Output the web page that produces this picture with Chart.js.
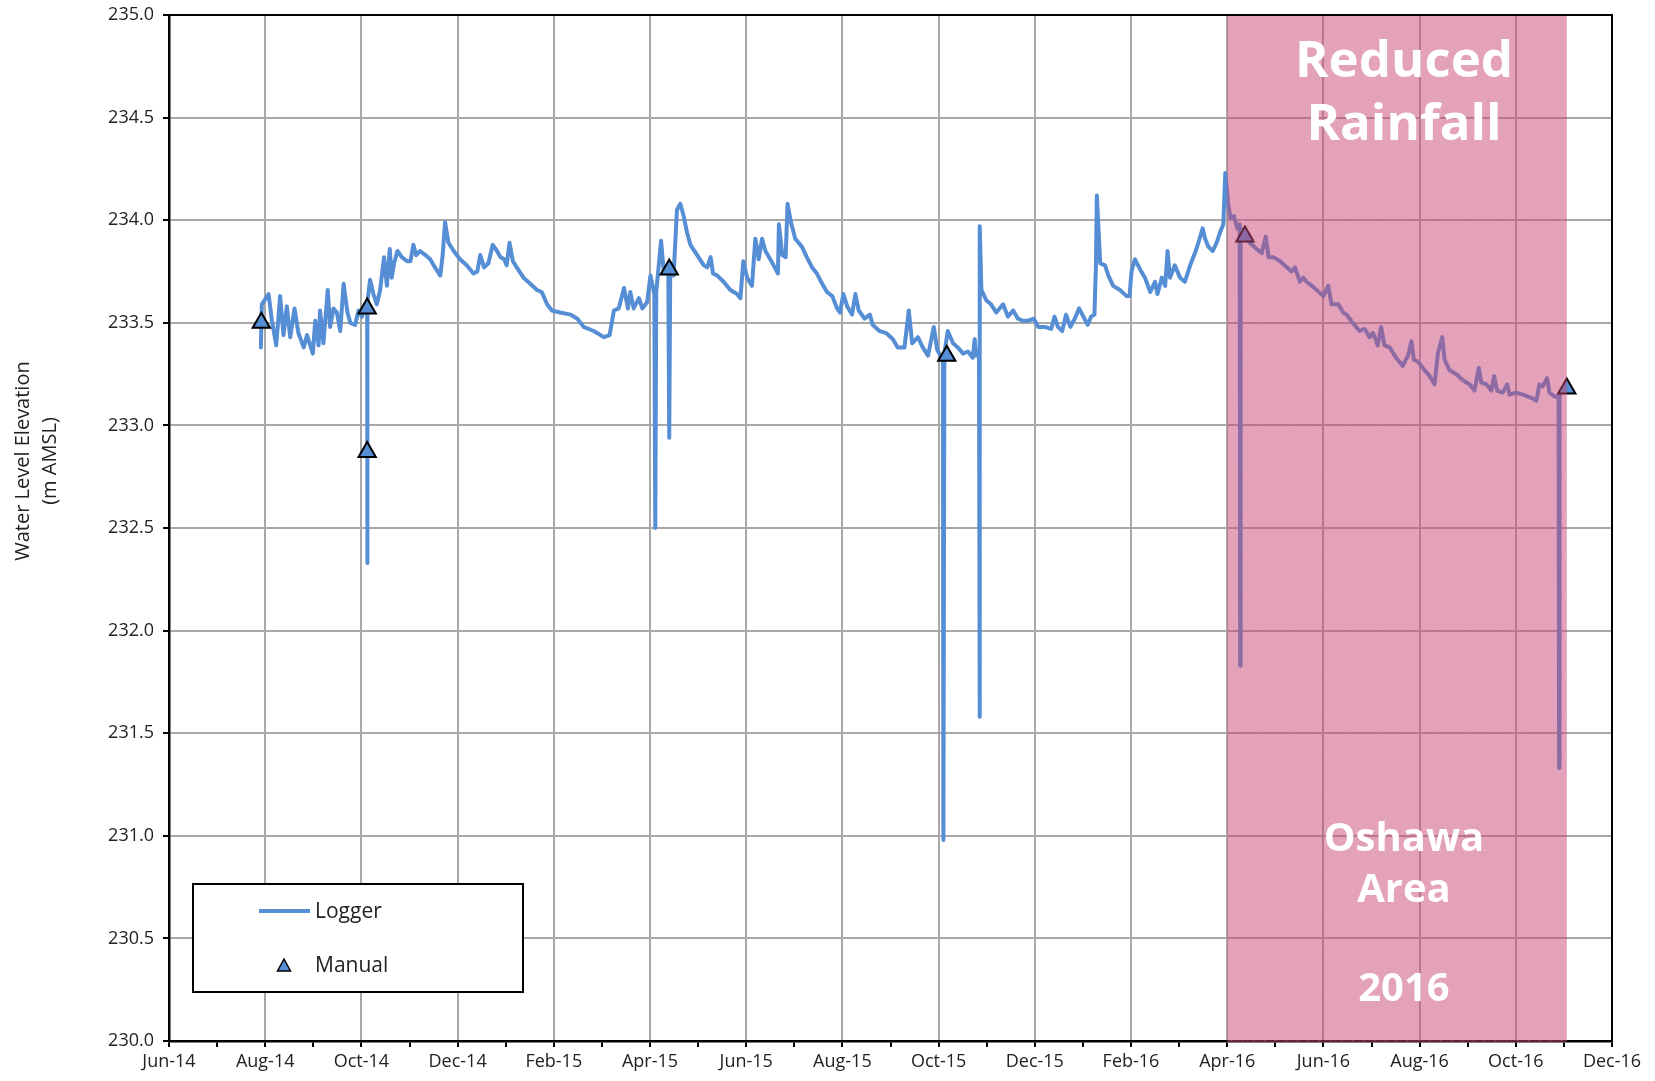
<!DOCTYPE html>
<html>
<head>
<meta charset="utf-8">
<title>Water Level Elevation</title>
<script src="https://cdn.jsdelivr.net/npm/chart.js@4.4.0/dist/chart.umd.min.js"></script>
<style>
  html, body { margin: 0; padding: 0; background: #fff; }
  canvas { display: block; }
</style>
</head>
<body>
<canvas id="chart" width="1655" height="1081"></canvas>
<script>
// x = months after Jun-14 (the axis is spaced one month per step)
const monthLabels = ["Jun-14", "Aug-14", "Oct-14", "Dec-14", "Feb-15", "Apr-15", "Jun-15", "Aug-15",
  "Oct-15", "Dec-15", "Feb-16", "Apr-16", "Jun-16", "Aug-16", "Oct-16", "Dec-16"];

const loggerMonth = [
  1.91, 1.93, 2.07, 2.14, 2.23, 2.31, 2.38, 2.45, 2.52, 2.61, 2.69, 2.80, 2.87, 2.99, 3.04, 3.11, 3.14, 3.21,
  3.30, 3.35, 3.42, 3.49, 3.56, 3.63, 3.71, 3.77, 3.87, 3.94, 4.01, 4.06, 4.12, 4.12, 4.13, 4.18, 4.25, 4.32,
  4.39, 4.47, 4.53, 4.59, 4.63, 4.68, 4.75, 4.84, 4.95, 5.02, 5.08, 5.14, 5.22, 5.33, 5.43, 5.53, 5.64, 5.69,
  5.74, 5.81, 5.92, 6.05, 6.19, 6.33, 6.41, 6.47, 6.55, 6.64, 6.73, 6.82, 6.89, 6.97, 7.02, 7.08, 7.15, 7.23,
  7.37, 7.51, 7.65, 7.75, 7.86, 7.96, 8.13,
  8.35, 8.49, 8.62, 8.83, 9.04, 9.16, 9.25, 9.35, 9.46, 9.54, 9.59, 9.66, 9.77, 9.84, 9.94, 10.01, 10.09, 10.11,
  10.13, 10.23, 10.29, 10.38, 10.40, 10.42, 10.49, 10.56, 10.63, 10.70, 10.77, 10.84, 10.98, 11.12, 11.19, 11.26,
  11.31, 11.40, 11.53, 11.67, 11.81, 11.88, 11.94, 12.02, 12.12, 12.19, 12.26, 12.33, 12.40, 12.50, 12.57, 12.66,
  12.68, 12.75, 12.82, 12.86, 12.93, 13.02, 13.16, 13.26, 13.37, 13.47, 13.58, 13.68, 13.79, 13.89, 13.95, 14.02,
  14.10, 14.20, 14.27, 14.34,
  14.46, 14.57, 14.63, 14.77, 14.91, 15.05, 15.15, 15.29, 15.38, 15.45, 15.57, 15.67, 15.78, 15.90, 15.97, 16.06,
  16.09, 16.10, 16.12, 16.19, 16.30, 16.40, 16.51, 16.61, 16.71, 16.75, 16.78, 16.84, 16.85, 16.86, 16.89, 16.99,
  17.09, 17.20, 17.34, 17.44, 17.55, 17.65, 17.75, 17.86, 17.98, 18.07, 18.20, 18.34, 18.41, 18.48, 18.57, 18.65,
  18.74, 18.83, 18.92, 19.01, 19.10, 19.17, 19.24, 19.27, 19.29,
  19.36, 19.46, 19.53, 19.63, 19.77, 19.91, 19.97, 20.01, 20.08, 20.19, 20.29, 20.40, 20.50, 20.55, 20.64, 20.71,
  20.76, 20.81, 20.91, 21.02, 21.12, 21.23, 21.33, 21.40, 21.49, 21.54, 21.61, 21.70, 21.78, 21.85, 21.92, 21.96,
  22.02, 22.07, 22.14, 22.21, 22.26, 22.27, 22.28, 22.47, 22.61, 22.72, 22.80, 22.86, 22.96, 23.10, 23.24, 23.34,
  23.41, 23.51, 23.58, 23.65, 23.76, 23.86, 24.00, 24.10, 24.17, 24.31, 24.41,
  24.48, 24.61, 24.75, 24.86, 24.96, 25.03, 25.13, 25.20, 25.27, 25.38, 25.51, 25.65, 25.76, 25.83, 25.88, 25.97,
  26.10, 26.21, 26.31, 26.38, 26.47, 26.52, 26.62, 26.76, 26.90, 27.04, 27.14, 27.23, 27.28, 27.39, 27.49, 27.55,
  27.61, 27.73, 27.82, 27.87, 28.01, 28.15, 28.25, 28.36, 28.43, 28.49, 28.56, 28.65, 28.70, 28.81, 28.89, 28.90,
  28.91, 28.95, 29.05
];
const loggerLevel = [
  233.38, 233.59, 233.64, 233.51, 233.39, 233.63, 233.44, 233.58, 233.43, 233.57, 233.45, 233.38, 233.44, 233.35, 233.51, 233.39, 233.56, 233.40,
  233.66, 233.48, 233.57, 233.55, 233.46, 233.69, 233.55, 233.50, 233.49, 233.56, 233.53, 233.57, 233.57, 232.33, 233.60, 233.71, 233.64, 233.59,
  233.66, 233.82, 233.68, 233.86, 233.72, 233.79, 233.85, 233.82, 233.80, 233.80, 233.88, 233.83, 233.85, 233.83, 233.81, 233.77, 233.73, 233.83,
  233.99, 233.89, 233.85, 233.81, 233.78, 233.74, 233.75, 233.83, 233.77, 233.79, 233.88, 233.85, 233.82, 233.81, 233.78, 233.89, 233.80, 233.77,
  233.72, 233.69, 233.66, 233.65, 233.59, 233.56, 233.55,
  233.54, 233.52, 233.48, 233.46, 233.43, 233.44, 233.56, 233.57, 233.67, 233.57, 233.65, 233.57, 233.62, 233.57, 233.60, 233.73, 233.64, 232.50,
  233.65, 233.90, 233.74, 233.77, 232.94, 233.73, 233.73, 234.05, 234.08, 234.02, 233.94, 233.88, 233.83, 233.78, 233.77, 233.82,
  233.74, 233.73, 233.70, 233.66, 233.64, 233.62, 233.80, 233.72, 233.68, 233.91, 233.81, 233.91, 233.85, 233.81, 233.78, 233.74,
  233.98, 233.83, 233.82, 234.08, 233.99, 233.91, 233.87, 233.82, 233.77, 233.74, 233.69, 233.65, 233.63, 233.57, 233.55, 233.64,
  233.58, 233.54, 233.64, 233.56,
  233.52, 233.54, 233.49, 233.46, 233.45, 233.42, 233.38, 233.38, 233.56, 233.40, 233.43, 233.38, 233.34, 233.48, 233.37, 233.33,
  233.33, 230.98, 233.35, 233.46, 233.40, 233.38, 233.35, 233.36, 233.33, 233.42, 233.34, 233.35, 231.58, 233.97, 233.66, 233.61,
  233.59, 233.55, 233.59, 233.53, 233.56, 233.52, 233.51, 233.51, 233.52, 233.48, 233.48, 233.47, 233.53, 233.48, 233.46, 233.54,
  233.48, 233.52, 233.57, 233.53, 233.49, 233.53, 233.54, 233.77, 234.12,
  233.79, 233.78, 233.73, 233.68, 233.66, 233.63, 233.63, 233.75, 233.81, 233.76, 233.72, 233.65, 233.70, 233.64, 233.72, 233.68,
  233.85, 233.72, 233.78, 233.72, 233.70, 233.78, 233.84, 233.89, 233.96, 233.91, 233.87, 233.85, 233.89, 233.94, 233.98, 234.23,
  234.08, 234.01, 234.02, 233.96, 233.98, 231.83, 233.96, 233.89, 233.86, 233.84, 233.92, 233.82, 233.82, 233.80, 233.77, 233.75,
  233.77, 233.70, 233.72, 233.70, 233.68, 233.66, 233.63, 233.68, 233.59, 233.59, 233.55,
  233.54, 233.50, 233.46, 233.47, 233.43, 233.45, 233.39, 233.48, 233.39, 233.38, 233.33, 233.29, 233.34, 233.41, 233.32, 233.31,
  233.27, 233.24, 233.20, 233.35, 233.43, 233.32, 233.27, 233.25, 233.22, 233.20, 233.17, 233.28, 233.21, 233.20, 233.17, 233.24,
  233.17, 233.16, 233.20, 233.15, 233.16, 233.15, 233.14, 233.13, 233.12, 233.20, 233.19, 233.23, 233.16, 233.14, 233.14, 231.33,
  233.15, 233.16, 233.17
];

const manualMonth = [1.92, 4.12, 4.12, 10.40, 16.17, 22.37, 29.06];
const manualLevel = [233.50, 233.57, 232.87, 233.76, 233.34, 233.92, 233.18];

// shaded period: Apr-16 to early Nov-16
const shadeFrom = 22;
const shadeTo = 29.06;
const shadeTop = ["Reduced", "Rainfall"];
const shadeBottom = ["Oshawa", "Area", "2016"];

const blue = "#558ED5";
const gridGrey = "#A8A8A8";
const textCol = "#222";
const font = "'Open Sans', 'DejaVu Sans', sans-serif";

const loggerPts = loggerMonth.map((m, i) => ({ x: m, y: loggerLevel[i] }));
const manualPts = manualMonth.map((m, i) => ({ x: m, y: manualLevel[i] }));

const decor = {
  id: "decor",
  afterDatasetsDraw(chart) {
    const { ctx, chartArea: a, scales: { x } } = chart;
    const x0 = x.getPixelForValue(shadeFrom);
    const x1 = x.getPixelForValue(shadeTo);
    ctx.save();
    ctx.fillStyle = "rgba(200,70,115,0.5)";
    ctx.fillRect(x0, a.top, x1 - x0, a.bottom - a.top + 1);
    // faint dotted texture
    ctx.fillStyle = "rgba(255,255,255,0.3)";
    for (let yy = a.top + 5; yy < a.bottom; yy += 10) {
      for (let xx = x0 + 4; xx < x1; xx += 11) ctx.fillRect(xx, yy, 1, 1);
    }
    const cx = (x0 + x1) / 2 + 7;
    ctx.fillStyle = "#fff";
    ctx.textAlign = "center";
    ctx.textBaseline = "alphabetic";
    ctx.font = "bold 51px " + font;
    ctx.fillText(shadeTop[0], cx, a.top + 62);
    ctx.fillText(shadeTop[1], cx, a.top + 125);
    ctx.font = "bold 40px " + font;
    ctx.fillText(shadeBottom[0], cx, a.bottom - 190);
    ctx.fillText(shadeBottom[1], cx, a.bottom - 139);
    ctx.fillText(shadeBottom[2], cx, a.bottom - 40);
    ctx.restore();
  },
  afterDraw(chart) {
    const { ctx, chartArea: a } = chart;
    ctx.save();
    // top and right frame
    ctx.strokeStyle = "#000";
    ctx.lineWidth = 2;
    ctx.beginPath();
    ctx.moveTo(a.left, a.top);
    ctx.lineTo(a.right, a.top);
    ctx.lineTo(a.right, a.bottom);
    ctx.stroke();

    // legend box
    const lx = a.left + 24, ly = a.bottom - 157;
    ctx.fillStyle = "#fff";
    ctx.fillRect(lx, ly, 330, 108);
    ctx.lineWidth = 2;
    ctx.strokeRect(lx, ly, 330, 108);
    ctx.strokeStyle = blue;
    ctx.lineWidth = 4;
    ctx.beginPath();
    ctx.moveTo(lx + 66, ly + 27);
    ctx.lineTo(lx + 117, ly + 27);
    ctx.stroke();
    ctx.beginPath();
    ctx.moveTo(lx + 91, ly + 75);
    ctx.lineTo(lx + 97.5, ly + 87);
    ctx.lineTo(lx + 84.5, ly + 87);
    ctx.closePath();
    ctx.fillStyle = blue;
    ctx.fill();
    ctx.strokeStyle = "#000";
    ctx.lineWidth = 1.5;
    ctx.stroke();
    ctx.fillStyle = textCol;
    ctx.font = "21px " + font;
    ctx.textAlign = "left";
    ctx.textBaseline = "alphabetic";
    ctx.fillText("Logger", lx + 122, ly + 34);
    ctx.fillText("Manual", lx + 122, ly + 88);

    // y axis title, two lines, rotated
    ctx.font = "20px " + font;
    ctx.textAlign = "center";
    ctx.textBaseline = "middle";
    ctx.translate(0, 461);
    ctx.rotate(-Math.PI / 2);
    ctx.fillText("Water Level Elevation", 0, 23);
    ctx.fillText("(m AMSL)", 0, 50);
    ctx.restore();
  }
};

new Chart(document.getElementById("chart"), {
  type: "scatter",
  data: {
    datasets: [
      {
        label: "Manual",
        data: manualPts,
        pointStyle: "triangle",
        pointRadius: 10,
        backgroundColor: blue,
        borderColor: "#000",
        borderWidth: 2,
        showLine: false
      },
      {
        label: "Logger",
        data: loggerPts,
        showLine: true,
        borderColor: blue,
        borderWidth: 4,
        borderJoinStyle: "round",
        borderCapStyle: "round",
        pointRadius: 0,
        tension: 0
      }
    ]
  },
  options: {
    responsive: false,
    animation: false,
    devicePixelRatio: 1,
    layout: { padding: { top: 15, right: 43, left: 0, bottom: 0 } },
    plugins: { legend: { display: false }, tooltip: { enabled: false } },
    scales: {
      x: {
        type: "linear",
        min: 0,
        max: 30,
        afterFit: s => { s.height = 40; },
        ticks: {
          stepSize: 1,
          autoSkip: false,
          maxRotation: 0,
          padding: 4,
          color: textCol,
          font: { family: font, size: 18 },
          callback: v => (v % 2 === 0 ? monthLabels[v / 2] : "")
        },
        grid: {
          color: c => (c.tick && c.tick.value % 2 === 0 ? gridGrey : "rgba(0,0,0,0)"),
          lineWidth: 2,
          tickColor: "#000",
          tickLength: 6,
          tickWidth: 2
        },
        border: { display: true, color: "#000", width: 2.5 }
      },
      y: {
        min: 230,
        max: 235,
        afterFit: s => { s.width = 169; s.paddingTop = 0; s.paddingBottom = 0; },
        ticks: {
          stepSize: 0.5,
          padding: 9,
          color: textCol,
          font: { family: font, size: 18 },
          callback: v => v.toFixed(1)
        },
        grid: {
          color: gridGrey,
          lineWidth: 2,
          tickColor: "#000",
          tickLength: 6,
          tickWidth: 2
        },
        border: { display: true, color: "#000", width: 2.5 }
      }
    }
  },
  plugins: [decor]
});
</script>
</body>
</html>
